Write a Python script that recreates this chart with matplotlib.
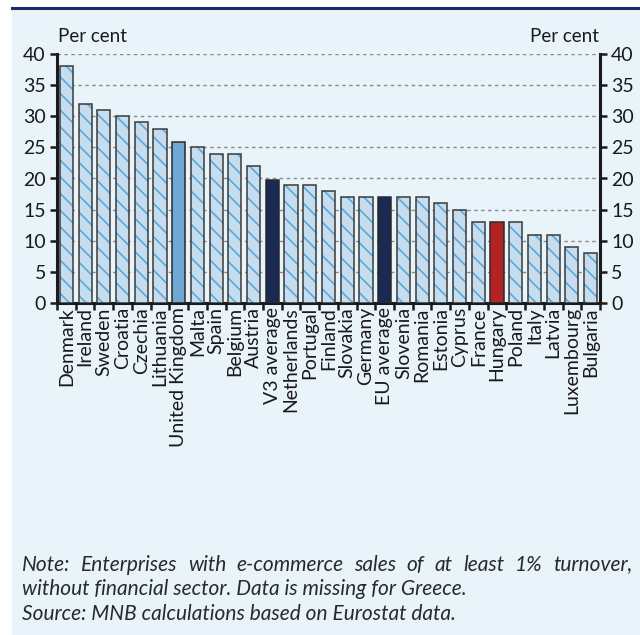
import matplotlib
matplotlib.use("Agg")
import matplotlib.pyplot as plt
from matplotlib.patches import Rectangle
from matplotlib.lines import Line2D
import numpy as np

countries = ["Denmark", "Ireland", "Sweden", "Croatia", "Czechia", "Lithuania",
             "United Kingdom", "Malta", "Spain", "Belgium", "Austria", "V3 average",
             "Netherlands", "Portugal", "Finland", "Slovakia", "Germany", "EU average",
             "Slovenia", "Romania", "Estonia", "Cyprus", "France", "Hungary", "Poland",
             "Italy", "Latvia", "Luxembourg", "Bulgaria"]
values = [38, 32, 31, 30, 29, 28, 25.8, 25, 24, 24, 22, 19.7, 19, 19, 18, 17, 17, 17,
          17, 17, 16, 15, 13, 13, 13, 11, 11, 9, 8]
y_ticks = [0, 5, 10, 15, 20, 25, 30, 35, 40]

HATCH_FILL = "#c6ddf0"
HATCH_LINE = "#5ea7d8"
special = {"United Kingdom": "#6fa9d2", "V3 average": "#1b2a52",
           "EU average": "#1b2a52", "Hungary": "#b32224"}

plt.rcParams["font.family"] = ["Lato", "DejaVu Sans"]
plt.rcParams["hatch.linewidth"] = 1.2

W, H = 640, 635
fig = plt.figure(figsize=(W / 100, H / 100), dpi=100)
fig.patch.set_facecolor("white")

# panel background and top rule
fig.patches.append(Rectangle((12 / W, 0), 1, 1 - 9 / H, transform=fig.transFigure,
                             facecolor="#e8f3fa", edgecolor="none", zorder=-10))
fig.lines.append(Line2D([12 / W, 1], [1 - 8 / H, 1 - 8 / H], transform=fig.transFigure,
                        color="#1b2a6b", lw=2.2))

left, right, top, bottom = 57, 600, 54, 303
ax = fig.add_axes([left / W, 1 - bottom / H, (right - left) / W, (bottom - top) / H])
ax.set_facecolor("none")

x = np.arange(len(countries))
bw = 0.7
for xi, name, v in zip(x, countries, values):
    if name in special:
        ax.bar(xi, v, width=bw, color=special[name], edgecolor="#2a2a2a",
               linewidth=1.1, zorder=3)
    else:
        ax.bar(xi, v, width=bw, color=HATCH_FILL, edgecolor=HATCH_LINE,
               hatch="\\\\", linewidth=0, zorder=3)
        ax.bar(xi, v, width=bw, color="none", edgecolor="#3a3a3a",
               linewidth=1.1, zorder=4)

ax.set_xlim(-0.5, len(countries) - 0.5)
ax.set_ylim(0, 40)
ax.set_yticks(y_ticks)
ax.set_yticklabels([str(t) for t in y_ticks])

for t in y_ticks[1:]:
    ax.axhline(t, color="#8a8a8a", lw=1.0, ls=(0, (2.5, 2.5)), zorder=1)

ax.set_xticks(x)
ax.set_xticklabels(countries, rotation=90, fontsize=14, color="#1a1a1a")
ax.tick_params(axis="x", length=0, pad=3)
ax.set_xticks(np.arange(-0.5, len(countries)), minor=True)
ax.tick_params(axis="x", which="minor", length=5, width=1.8, color="#1a1a1a")

ax.tick_params(axis="y", which="major", length=5, width=1.8, labelsize=14,
               color="#1a1a1a", labelcolor="#1a1a1a", left=True, right=True,
               labelleft=True, labelright=True, pad=3)

for s in ["left", "right", "bottom"]:
    ax.spines[s].set_linewidth(2.2)
    ax.spines[s].set_color("#1a1a1a")
ax.spines["top"].set_visible(False)

fig.text(left / W + 0.002, 1 - 36 / H, "Per cent", fontsize=13.5, color="#1a1a1a",
         ha="left", va="center")
fig.text(right / W - 0.002, 1 - 36 / H, "Per cent", fontsize=13.5, color="#1a1a1a",
         ha="right", va="center")

# note: first line justified across the panel
note1 = "Note: Enterprises with e-commerce sales of at least 1% turnover,"
note2 = "without financial sector. Data is missing for Greece."
source = "Source: MNB calculations based on Eurostat data."
nstyle = dict(fontsize=15, style="italic", color="#2a2a2a", va="center")

renderer = fig.canvas.get_renderer()
x0, x1 = 22, 632
words = note1.split()
objs = [fig.text(0, 1 - 565 / H, w, ha="left", **nstyle) for w in words]
widths = [o.get_window_extent(renderer).width for o in objs]
gap = (x1 - x0 - sum(widths)) / (len(words) - 1)
pos = x0
for o, wdt in zip(objs, widths):
    o.set_x(pos / W)
    pos += wdt + gap

fig.text(x0 / W, 1 - 589 / H, note2, ha="left", **nstyle)
fig.text(x0 / W, 1 - 614 / H, source, ha="left", **nstyle)

fig.savefig("out.png", dpi=100, facecolor=fig.get_facecolor())
